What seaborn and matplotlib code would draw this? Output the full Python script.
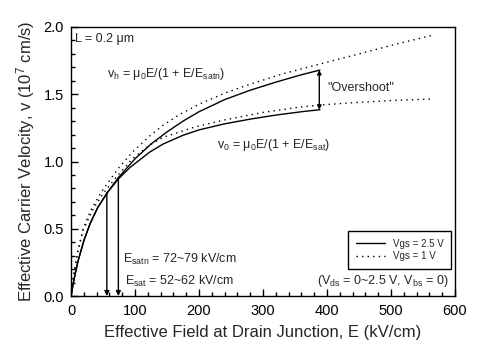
import pandas as pd
import matplotlib
matplotlib.use("Agg")
import matplotlib.pyplot as plt
import seaborn as sns
from matplotlib.ticker import MultipleLocator

# curves (E in kV/cm, v in 1e7 cm/s)
E_vh_25 = [0, 5, 11, 20, 30, 42, 57, 74, 100, 125, 150, 175, 200, 240, 280, 320, 360, 389]
v_vh_25 = [0, 0.13, 0.26, 0.41, 0.54, 0.66, 0.77, 0.88, 1.02, 1.13, 1.22, 1.30, 1.37, 1.46, 1.53, 1.59, 1.645, 1.68]

E_v0_25 = [0, 5, 11, 20, 30, 42, 57, 74, 92, 123, 144, 175, 200, 240, 280, 320, 360, 389]
v_v0_25 = [0, 0.13, 0.26, 0.41, 0.54, 0.66, 0.77, 0.87, 0.955, 1.07, 1.13, 1.195, 1.235, 1.28, 1.315, 1.345, 1.37, 1.385]

E_vh_1 = [0, 4, 10, 19, 30, 47, 74, 96, 123, 144, 170, 202, 241, 280, 330, 389, 450, 510, 566]
v_vh_1 = [0, 0.15, 0.32, 0.50, 0.63, 0.77, 0.95, 1.07, 1.19, 1.27, 1.35, 1.43, 1.51, 1.575, 1.65, 1.725, 1.80, 1.875, 1.94]

E_v0_1 = [0, 4, 10, 19, 35, 50, 70, 96, 122, 144, 196, 241, 300, 358, 389, 450, 510, 566]
v_v0_1 = [0, 0.15, 0.32, 0.49, 0.65, 0.76, 0.88, 1.02, 1.12, 1.18, 1.26, 1.31, 1.365, 1.405, 1.42, 1.44, 1.455, 1.465]

vgs_labels = ["Vgs = 2.5 V", "Vgs = 1 V"]

# E_sat / E_satn markers and overshoot span
esat_E = [56, 74]
esat_v = [0.765, 0.88]
overshoot_E = 388
overshoot_v = [1.385, 1.68]

frames = []
for name, E, v, vgs in [
    ("vh25", E_vh_25, v_vh_25, vgs_labels[0]),
    ("v025", E_v0_25, v_v0_25, vgs_labels[0]),
    ("vh1", E_vh_1, v_vh_1, vgs_labels[1]),
    ("v01", E_v0_1, v_v0_1, vgs_labels[1]),
]:
    frames.append(pd.DataFrame({"E": E, "v": v, "curve": name, "Vgs": vgs}))
df = pd.concat(frames, ignore_index=True)

sns.set_style("ticks")
plt.rcParams["font.family"] = ["Liberation Sans", "DejaVu Sans"]
plt.rcParams["mathtext.fontset"] = "custom"
plt.rcParams["mathtext.rm"] = "Liberation Sans"
plt.rcParams["mathtext.it"] = "Liberation Sans:italic"

fig = plt.figure(figsize=(4.83, 3.58), dpi=100)
ax = fig.add_axes([71 / 483, 1 - 296 / 358, 384 / 483, 269 / 358])

sns.lineplot(
    data=df, x="E", y="v", units="curve", estimator=None,
    style="Vgs", style_order=vgs_labels,
    dashes={vgs_labels[0]: "", vgs_labels[1]: (1, 3)},
    color="black", lw=1, sort=False, ax=ax,
)

for E, v in zip(esat_E, esat_v):
    ax.annotate("", xy=(E, 0), xytext=(E, v),
                arrowprops=dict(arrowstyle="-|>", color="black", lw=1,
                                mutation_scale=7, shrinkA=0, shrinkB=0))
ax.annotate("", xy=(overshoot_E, overshoot_v[0]), xytext=(overshoot_E, overshoot_v[1]),
            arrowprops=dict(arrowstyle="<|-|>", color="black", lw=1,
                            mutation_scale=6, shrinkA=0, shrinkB=0))

ax.set_xlim(0, 600)
ax.set_ylim(0, 2.0)
ax.xaxis.set_major_locator(MultipleLocator(100))
ax.xaxis.set_minor_locator(MultipleLocator(20))
ax.yaxis.set_major_locator(MultipleLocator(0.5))
ax.yaxis.set_minor_locator(MultipleLocator(0.1))
ax.yaxis.set_major_formatter(matplotlib.ticker.FormatStrFormatter("%.1f"))
ax.tick_params(which="both", direction="in", top=False, right=False, color="black")
ax.tick_params(which="major", length=5, width=1, labelsize=10.5, labelcolor="black")
ax.tick_params(axis="x", which="major", pad=6)
ax.tick_params(axis="y", which="major", pad=5)
ax.tick_params(which="minor", length=3, width=1)
for s in ax.spines.values():
    s.set_color("black")
    s.set_linewidth(1)
    s.set_visible(True)

ax.set_xlabel("Effective Field at Drain Junction, E (kV/cm)", fontsize=12, labelpad=5)
ax.set_ylabel("Effective Carrier Velocity, v (10$^\\mathregular{7}$ cm/s)", fontsize=12, labelpad=5)

fs = 9
ax.text(6, 1.91, "L = 0.2 μm", fontsize=fs, va="center")
ax.text(56, 1.65, "v$_\\mathregular{h}$ = μ$_\\mathregular{0}$E/(1 + E/E$_\\mathregular{satn}$)",
        fontsize=fs, va="center")
ax.text(228, 1.12, "v$_\\mathregular{0}$ = μ$_\\mathregular{0}$E/(1 + E/E$_\\mathregular{sat}$)",
        fontsize=fs, va="center")
ax.text(400, 1.55, "\"Overshoot\"", fontsize=fs, va="center")
ax.text(81, 0.27, "E$_\\mathregular{satn}$ = 72~79 kV/cm", fontsize=fs, va="center")
ax.text(85, 0.11, "E$_\\mathregular{sat}$ = 52~62 kV/cm", fontsize=fs, va="center")
ax.text(590, 0.11, "(V$_\\mathregular{ds}$ = 0~2.5 V, V$_\\mathregular{bs}$ = 0)",
        fontsize=fs, va="center", ha="right")

handles, labels = ax.get_legend_handles_labels()
ax.legend(handles, labels, loc="lower right", bbox_to_anchor=(0.99, 0.1),
          borderaxespad=0, fontsize=7, frameon=True, fancybox=False, edgecolor="black",
          framealpha=1, handlelength=3, borderpad=0.8, labelspacing=0.25)

fig.savefig("out.png", dpi=100)
